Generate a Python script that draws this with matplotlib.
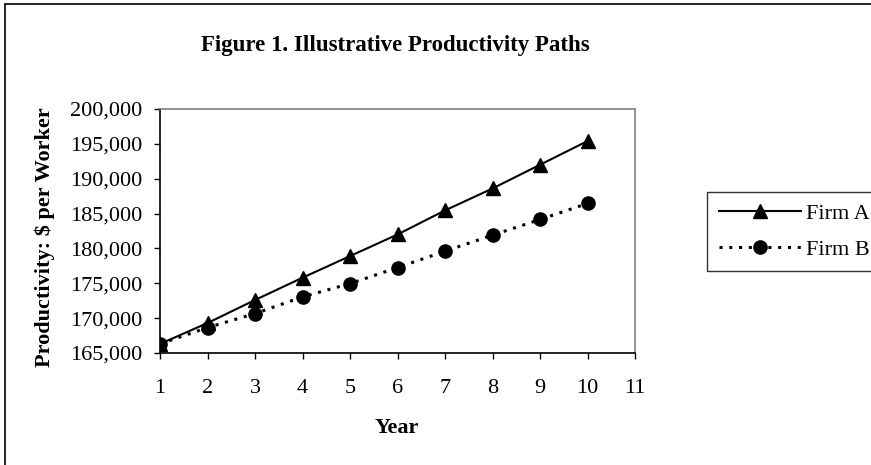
import matplotlib.pyplot as plt
from matplotlib.ticker import FuncFormatter
from matplotlib.patches import Rectangle

# data
years = [1, 2, 3, 4, 5, 6, 7, 8, 9, 10]
firm_a = [166300, 169300, 172600, 175800, 178900, 182000, 185450, 188600, 192000, 195400]
firm_b = [166300, 168650, 170650, 173050, 174950, 177250, 179600, 181900, 184150, 186450]
y_ticks = [165000, 170000, 175000, 180000, 185000, 190000, 195000, 200000]
x_ticks = [1, 2, 3, 4, 5, 6, 7, 8, 9, 10, 11]

plt.rcParams['font.family'] = ['Liberation Serif', 'DejaVu Serif']

W, H = 871, 465
fig = plt.figure(figsize=(W / 100, H / 100), dpi=100)

# outer chart frame (cut off at right and bottom like the reference)
fig.patches.append(Rectangle((5 / W, -0.1), 1.2, 1 - 4 / H + 0.1,
                             transform=fig.transFigure, fill=False,
                             edgecolor='black', linewidth=1.2))

ax = fig.add_axes([160 / W, 1 - 353 / H, 475 / W, 244 / H])

ax.plot(years, firm_a, color='black', linewidth=1.5, marker='^',
        markersize=10, label='Firm A')
ax.plot(years, firm_b, color='black', linewidth=2.2, linestyle=(0, (1, 2.2)),
        marker='o', markersize=9.5, label='Firm B', dash_capstyle='butt')

ax.set_xlim(1, 11)
ax.set_ylim(165000, 200000)
ax.set_xticks(x_ticks)
ax.set_yticks(y_ticks)
ax.yaxis.set_major_formatter(FuncFormatter(lambda v, p: f'{int(v):,}'))
ax.tick_params(direction='out', length=4, width=1, labelsize=16, colors='black')
ax.tick_params(axis='x', pad=15)
ax.tick_params(axis='y', pad=9)

for side in ['top', 'right']:
    ax.spines[side].set_color('#808080')
    ax.spines[side].set_linewidth(1.2)
for side in ['left', 'bottom']:
    ax.spines[side].set_color('black')
    ax.spines[side].set_linewidth(1.2)

ax.set_xlabel('Year', fontsize=16, fontweight='bold')
ax.xaxis.set_label_coords((397 - 160) / 475, (353 - 418) / 244)
ax.set_ylabel('Productivity: $ per Worker', fontsize=16, fontweight='bold')
ax.yaxis.set_label_coords((55 - 160) / 475, 0.5 - 6 / 244)

fig.text(395 / W, 1 - 45 / H, 'Figure 1. Illustrative Productivity Paths',
         ha='center', va='center', fontsize=16.5, fontweight='bold')

leg = fig.legend(loc='upper left', bbox_to_anchor=(707 / W, 1 - 192 / H),
                 borderaxespad=0, frameon=True, fancybox=False,
                 edgecolor='black', fontsize=16, handlelength=3.7,
                 handletextpad=0.25, borderpad=0.52, labelspacing=0.67)
leg.get_frame().set_linewidth(1.0)

fig.savefig('out.png', dpi=100)
